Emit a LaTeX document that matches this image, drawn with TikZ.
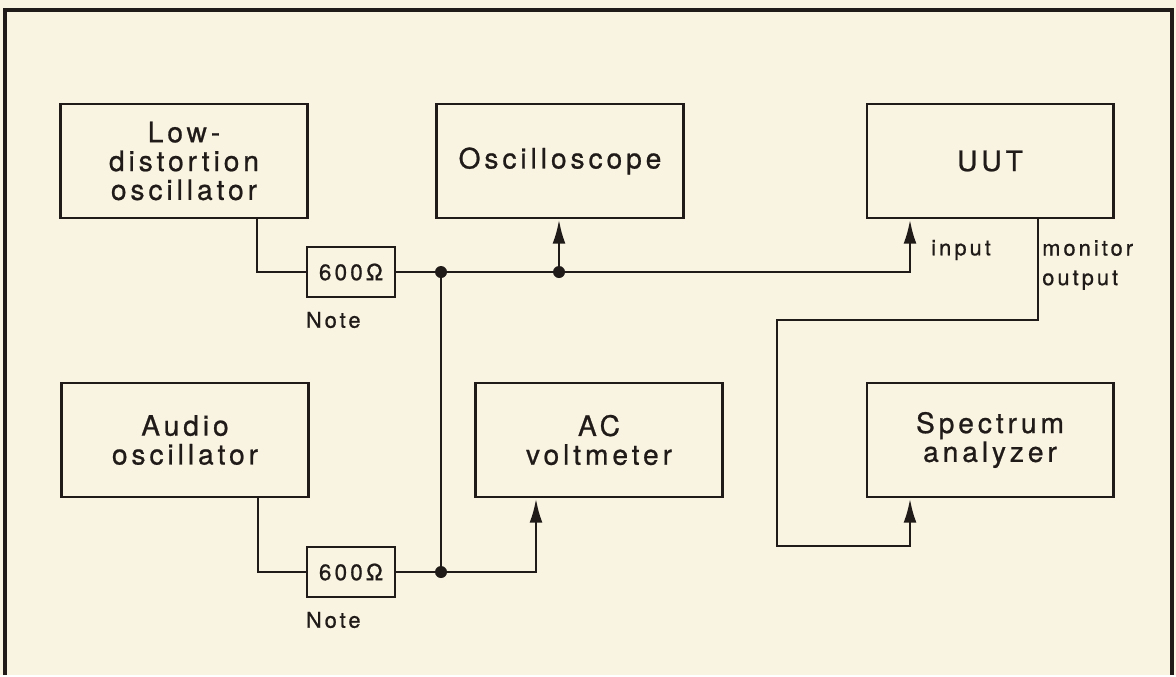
\documentclass[tikz,border=0pt]{standalone}
\usepackage{fontspec}
\setmainfont{TeX Gyre Heros}[LetterSpace=14, FakeBold=0.8]
\usetikzlibrary{arrows.meta}
\definecolor{paper}{RGB}{249,244,226}
\definecolor{ink}{RGB}{32,26,24}

\begin{document}
\begin{tikzpicture}[x=0.025cm, y=-0.025cm,
        instr/.style={draw=ink, line width=2.1pt, minimum width=6.15cm, minimum height=2.85cm,
            inner sep=0pt, align=center, text=ink, font=\fontsize{20}{20.5}\selectfont},
        resbox/.style={draw=ink, line width=1.9pt, minimum width=2.2cm, minimum height=1.25cm,
            inner sep=0pt, text=ink, font=\fontsize{16}{17}\selectfont},
        lbl/.style={inner sep=0pt, align=left, text=ink, font=\fontsize{15.5}{21}\selectfont},
        wire/.style={draw=ink, line width=1.9pt},
        feed/.style={wire, -{Latex[length=0.6cm, width=0.32cm]}},
        jn/.style={circle, fill=ink, inner sep=0pt, minimum size=0.3cm}
    ]
    \fill[paper] (0,0) rectangle (1176,675);
    \draw[ink, line width=2.2pt] (5,675) -- (5,10) -- (1172,10) -- (1172,675);

    \node[instr] (lowosc) at (184,161) {Low-\\distortion\\oscillator};
    \node[instr] (scope) at (560,161) {Oscilloscope};
    \node[instr] (uut) at (990,161) {UUT};
    \node[instr] (audio) at (185,440) {Audio\\oscillator};
    \node[instr] (acv) at (599,440) {AC\\voltmeter};
    \node[instr] (spec) at (990,440) {Spectrum\\analyzer};

    \node[resbox] (r1) at (351,272) {600Ω};
    \node[resbox] (r2) at (351,572) {600Ω};
    \node[lbl, anchor=north west] (note1) at ([yshift=-0.33cm]r1.south west) {Note};
    \node[lbl, anchor=north west] (note2) at ([yshift=-0.33cm]r2.south west) {Note};

    \node[jn] (j1) at (441,272) {};
    \node[jn] (j2) at (559,272) {};
    \node[jn] (j3) at (441,572) {};

    \coordinate (k1) at (257,272);
    \coordinate (k2) at (258,572);
    \coordinate (k3) at (910,272);
    \coordinate (k4) at (536,572);
    \coordinate (k5) at (1038,320);
    \coordinate (k6) at (777,546);
    \coordinate (k7) at (910,546);

    \draw[wire] (lowosc.south -| k1) |- (r1.west);
    \draw[wire] (audio.south -| k2) |- (r2.west);
    \draw[wire] (r1.east) -- (j1.center) -- (j2.center);
    \draw[wire] (j1.center) -- (j3.center);
    \draw[wire] (r2.east) -- (j3.center);
    \draw[feed] (j2.center) -- (scope.south -| j2);
    \draw[feed] (j2.center) -| (uut.south -| k3);
    \draw[feed] (j3.center) -| (acv.south -| k4);
    \draw[feed] (uut.south -| k5) -- (k5) -| (k6) -- (k7) -- (spec.south -| k7);

    \node[lbl, anchor=west] (inlbl) at (931,250) {input};
    \node[lbl, anchor=west] (monlbl) at (1042,265) {monitor\\output};
\end{tikzpicture}
\end{document}
